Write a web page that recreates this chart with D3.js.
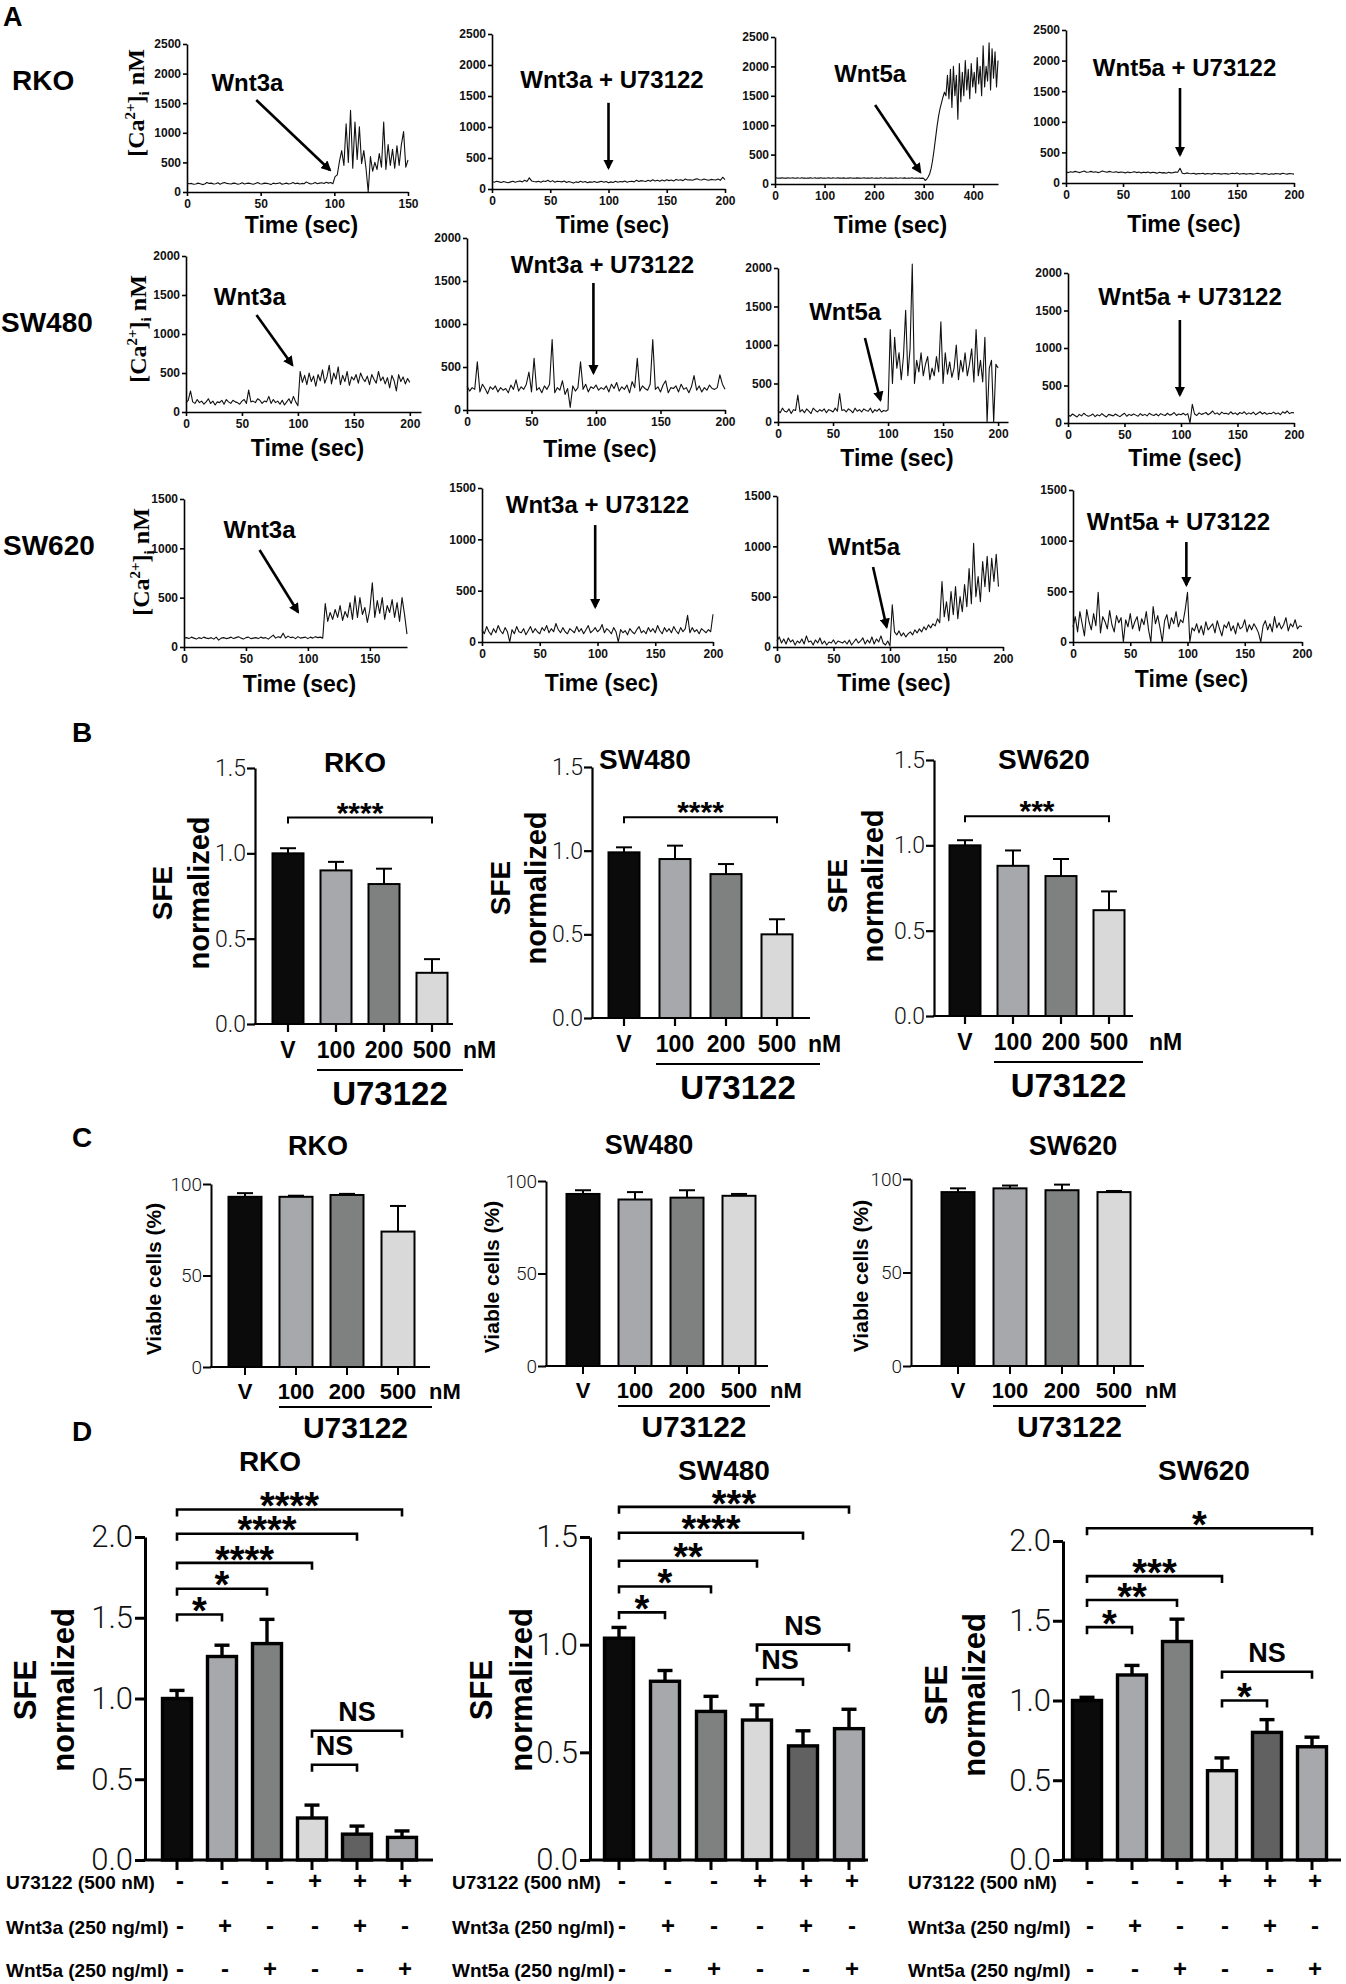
<!DOCTYPE html>
<html>
<head>
<meta charset="utf-8">
<script src="https://cdn.jsdelivr.net/npm/d3@7"></script>
<style>
  body { margin: 0; background: #fff; }
  svg { display: block; }
</style>
</head>
<body>
<svg id="fig" width="1346" height="1984"></svg>
<script>
// ---------- panel A : [Ca2+]i traces (nM), evenly sampled from 0 to tEnd ----------
const rkoWnt3a = [150,140,145,130,135,150,140,125,135,160,
  145,150,135,140,155,130,150,160,145,140,
  135,150,145,130,140,155,135,145,150,140,
  130,145,160,140,135,150,145,140,125,150,
  140,145,155,130,140,150,135,145,160,140,
  150,135,145,140,170,150,135,145,160,140,
  150,155,145,165,150,160,140,260,290,520,
  700,450,1150,500,1380,400,1180,550,1100,480,
  700,400,0,600,350,500,380,650,420,1180,
  380,800,450,720,400,780,450,800,1020,420,
  540];
const rkoWnt3aU = [120,110,125,115,105,120,110,100,115,125,
  110,120,130,115,140,120,180,130,120,115,
  125,110,130,120,140,115,135,110,125,120,
  115,130,105,120,110,95,115,105,125,110,
  120,100,115,110,120,105,115,125,110,120,
  100,115,105,125,110,120,115,130,110,120,
  125,115,140,120,135,130,120,140,125,150,
  130,140,125,145,130,150,135,145,130,155,
  140,150,135,160,145,150,140,155,165,150,
  145,160,150,140,155,150,145,160,140,190,
  150];
const rkoWnt5a = [100,105,98,102,100,108,97,103,100,105,
  98,102,106,100,97,104,101,99,105,100,
  102,98,103,100,107,99,101,104,98,102,
  100,105,99,102,98,103,106,100,97,104,
  101,99,105,100,102,98,104,100,97,103,
  100,106,99,102,98,104,100,103,97,101,
  104,99,102,100,97,105,101,99,103,100,
  98,104,101,99,106,100,97,103,100,102,
  99,105,100,98,103,101,97,104,100,99,
  102,98,105,100,97,103,99,101,96,100,
  95,60,80,120,170,260,400,580,780,980,
  1150,1280,1380,1480,1560,1500,1850,1450,1950,1300,
  2000,1500,1850,1100,2050,1400,1900,1500,2100,1600,
  1950,1450,2050,1650,1900,1550,2150,1700,2000,1500,
  2350,1650,2000,1750,2400,1600,2300,1800,2250,1650,
  2100];
const rkoWnt5aU = [180,170,185,175,190,180,170,185,195,175,
  180,190,175,185,170,180,195,185,175,190,
  180,175,185,170,180,175,165,180,170,175,
  185,170,180,165,175,170,180,165,175,170,
  160,175,165,170,160,175,165,170,180,175,
  240,160,150,165,155,150,160,145,155,150,
  160,145,155,150,145,160,150,155,145,150,
  155,145,150,160,150,165,145,150,155,145,
  150,155,145,150,160,150,145,155,150,140,
  150,145,155,150,145,160,150,145,155,150,
  145];
const sw480Wnt3a = [120,150,270,130,110,160,120,140,100,130,
  170,110,140,90,130,120,150,100,160,130,
  110,150,130,120,100,140,160,110,280,130,
  140,120,170,150,110,140,130,200,110,160,
  120,140,100,150,90,130,170,110,200,130,
  80,520,380,470,350,500,390,460,330,480,
  400,540,370,450,600,360,500,420,580,350,
  470,390,520,340,450,410,480,370,500,430,
  390,460,350,480,420,370,520,400,450,360,
  440,310,470,400,270,480,390,450,360,430,
  380];
const sw480Wnt3aU = [280,220,260,240,560,210,300,250,190,270,
  240,280,210,260,230,250,200,290,240,350,
  220,270,240,300,440,210,600,230,260,200,
  280,240,300,820,200,260,230,340,180,250,
  30,280,220,260,560,240,300,210,270,250,
  290,230,260,240,280,210,300,250,320,220,
  270,240,290,200,330,260,600,220,280,250,
  230,300,820,240,270,210,290,340,200,260,
  250,280,210,300,240,260,200,270,400,230,
  280,210,260,230,290,250,240,260,410,300,
  240];
const sw480Wnt5a = [150,120,180,140,130,170,110,160,150,350,
  130,160,120,170,140,110,180,150,130,160,
  140,170,120,160,150,130,180,140,370,150,
  160,130,170,150,120,180,140,160,130,170,
  150,140,180,120,160,140,170,130,150,140,
  160,1200,500,1100,700,900,550,850,1450,600,
  950,2050,500,800,650,900,600,750,850,550,
  700,600,850,650,1300,500,900,620,780,580,
  700,1000,550,800,650,900,600,750,950,520,
  1200,600,800,520,1100,0,700,800,0,750,
  700];
const sw480Wnt5aU = [110,90,120,100,80,115,95,130,105,90,
  100,120,85,110,95,125,100,80,115,105,
  95,120,100,85,110,130,90,115,100,120,
  105,90,125,100,115,95,130,110,100,120,
  95,125,110,100,130,105,115,140,100,120,
  110,130,105,125,0,250,120,100,135,115,
  125,140,110,130,160,120,135,110,145,125,
  130,115,150,120,135,110,140,125,150,115,
  135,120,145,110,130,150,120,140,115,130,
  125,145,120,135,110,150,130,160,125,140,
  135];
const sw620Wnt3a = [90,95,85,100,90,80,95,85,100,90,
  85,95,80,100,70,90,95,85,90,100,
  85,95,105,90,80,95,100,85,90,95,
  85,100,90,95,80,100,120,90,105,95,
  140,90,110,95,100,85,105,90,95,100,
  85,100,90,105,95,100,90,440,260,350,
  280,380,300,420,270,360,300,450,280,520,
  300,500,330,400,250,380,650,300,470,340,
  500,280,420,350,480,300,450,260,500,330,
  130];
const sw620Wnt3aU = [120,80,150,100,70,130,90,160,110,80,
  140,100,0,120,80,150,100,90,130,70,
  110,150,90,130,100,80,140,110,160,90,
  130,100,180,120,90,140,100,80,130,110,
  90,150,100,130,80,120,160,90,110,140,
  100,120,170,90,130,110,80,140,100,0,
  120,90,110,70,130,100,80,120,150,90,
  110,80,140,100,130,90,160,110,80,140,
  100,130,90,150,110,80,140,100,130,260,
  90,140,100,120,80,130,110,90,120,100,
  270];
const sw620Wnt5a = [60,100,40,80,30,90,50,70,20,60,
  40,80,30,110,50,60,20,70,40,90,
  30,60,20,50,40,70,30,60,50,40,
  60,30,70,20,50,80,40,60,90,30,
  70,40,100,30,80,50,110,40,20,60,
  10,420,150,120,160,110,140,100,130,150,
  120,170,140,180,150,200,170,220,190,230,
  210,280,240,650,300,450,260,550,320,600,
  280,500,350,620,400,780,430,1030,500,700,
  450,850,600,900,550,880,650,920,600];
const sw620Wnt5aU = [150,250,100,300,180,60,320,200,120,280,
  160,490,90,250,200,130,310,170,100,260,
  190,240,0,220,150,280,130,200,250,110,
  230,170,300,120,0,350,180,260,140,0,
  210,270,130,240,180,300,150,220,190,320,
  490,0,140,110,180,90,160,70,200,120,
  150,180,90,210,130,60,170,140,200,110,
  160,80,190,130,150,220,100,170,120,180,
  140,90,0,160,210,120,180,100,250,140,
  190,130,170,240,110,180,150,220,130,160,
  150];

const tick2500 = [0, 500, 1000, 1500, 2000, 2500];
const tick2000 = [0, 500, 1000, 1500, 2000];
const tick1500 = [0, 500, 1000, 1500];
const tTicks150 = [0, 50, 100, 150];
const tTicks200 = [0, 50, 100, 150, 200];
const tTicks400 = [0, 100, 200, 300, 400];
const cellLines = ['RKO', 'SW480', 'SW620'];

// ---------- panel B : sphere forming efficiency ----------
const doseCats = ['V', '100', '200', '500'];
const sfeRKO = [1.00, 0.90, 0.82, 0.30];
const sfeRKOerr = [0.03, 0.05, 0.09, 0.08];
const sfeSW480 = [0.99, 0.95, 0.86, 0.50];
const sfeSW480err = [0.03, 0.08, 0.06, 0.09];
const sfeSW620 = [1.00, 0.88, 0.82, 0.62];
const sfeSW620err = [0.03, 0.09, 0.10, 0.11];
const sfeTicks = [0, 0.5, 1.0, 1.5];

// ---------- panel C : viability (%) ----------
const viaRKO = [93, 93, 94, 74];
const viaRKOerr = [2, 0.6, 0.6, 14];
const viaSW480 = [93, 90, 91, 92];
const viaSW480err = [2, 4, 4, 1];
const viaSW620 = [93, 95, 94, 93];
const viaSW620err = [2, 1.5, 3, 0.6];
const viaTicks = [0, 50, 100];

// ---------- panel D : SFE with Wnt ligands ----------
const comboCats = ['ctrl', 'wnt3a', 'wnt5a', 'u', 'u+wnt3a', 'u+wnt5a'];
const u73Row = ['-', '-', '-', '+', '+', '+'];
const wnt3aRow = ['-', '+', '-', '-', '+', '-'];
const wnt5aRow = ['-', '-', '+', '-', '-', '+'];
const rowNames = ['U73122 (500 nM)', 'Wnt3a (250 ng/ml)', 'Wnt5a (250 ng/ml)'];
const dRKO = [1.00, 1.26, 1.34, 0.26, 0.16, 0.14];
const dRKOerr = [0.05, 0.07, 0.15, 0.08, 0.05, 0.04];
const dSW480 = [1.03, 0.83, 0.69, 0.65, 0.53, 0.61];
const dSW480err = [0.05, 0.05, 0.07, 0.07, 0.07, 0.09];
const dSW620 = [1.00, 1.16, 1.37, 0.56, 0.80, 0.71];
const dSW620err = [0.02, 0.06, 0.14, 0.08, 0.08, 0.06];
const dTicks2 = [0, 0.5, 1.0, 1.5, 2.0];
const dTicks15 = [0, 0.5, 1.0, 1.5];

// significance: label, from, to, bracket height (data units)
const sigB_RKO = [['****', 'V', '500', 1.21]];
const sigB_SW480 = [['****', 'V', '500', 1.20]];
const sigB_SW620 = [['***', 'V', '500', 1.17]];
const sigD_RKO = [['****', 'ctrl', 'u+wnt5a', 2.17], ['****', 'ctrl', 'u+wnt3a', 2.02],
  ['****', 'ctrl', 'u', 1.84], ['*', 'ctrl', 'wnt5a', 1.68], ['*', 'ctrl', 'wnt3a', 1.52],
  ['NS', 'u', 'u+wnt5a', 0.80], ['NS', 'u', 'u+wnt3a', 0.59]];
const sigD_SW480 = [['***', 'ctrl', 'u+wnt5a', 1.64], ['****', 'ctrl', 'u+wnt3a', 1.52],
  ['**', 'ctrl', 'u', 1.39], ['*', 'ctrl', 'wnt5a', 1.27], ['*', 'ctrl', 'wnt3a', 1.15],
  ['NS', 'u', 'u+wnt5a', 1.00], ['NS', 'u', 'u+wnt3a', 0.84]];
const sigD_SW620 = [['*', 'ctrl', 'u+wnt5a', 2.08], ['***', 'ctrl', 'u', 1.78],
  ['**', 'ctrl', 'wnt5a', 1.63], ['*', 'ctrl', 'wnt3a', 1.46],
  ['NS', 'u', 'u+wnt5a', 1.18], ['*', 'u', 'u+wnt3a', 1.00]];

const doseFills = ['#0b0b0b', '#a7a8ac', '#7f8080', '#d9d9d9'];
const comboFills = ['#0b0b0b', '#a7a8ac', '#7f8080', '#d9d9d9', '#616161', '#a7a8ac'];

// ---------------------------------------------------------------
const svg = d3.select('#fig');
const SANS = '"Liberation Sans", Arial, Helvetica, sans-serif';
const LIGHT = 'Roboto, "Liberation Sans", sans-serif';

svg.append('defs').append('marker')
  .attr('id', 'ah').attr('viewBox', '0 0 10 10')
  .attr('refX', 8).attr('refY', 5)
  .attr('markerWidth', 4).attr('markerHeight', 4)
  .attr('orient', 'auto')
  .append('path').attr('d', 'M0,0L10,5L0,10z').attr('fill', '#000');

function label(x, y, str, size, opt = {}) {
  const t = svg.append('text')
    .attr('x', x).attr('y', y).text(str)
    .attr('font-family', opt.family || SANS)
    .attr('font-size', size)
    .attr('font-weight', opt.weight || 'bold')
    .attr('text-anchor', opt.anchor || 'middle')
    .attr('fill', '#000');
  if (opt.rotate) {
    t.attr('transform', `rotate(-90,${x},${y})`).attr('dominant-baseline', 'central');
  }
  return t;
}

function styleAxis(g, sw, size, family, weight) {
  g.attr('font-family', family).attr('font-size', size).attr('font-weight', weight);
  g.selectAll('path, line').attr('stroke', '#000').attr('stroke-width', sw);
  g.selectAll('text').attr('fill', '#111');
}

// ---------- panel A ----------
const traceLayout = [
  { data: rkoWnt3a, tEnd: 150, xMax: 150, xTicks: tTicks150, yTicks: tick2500, l: 187, r: 408, b: 192, t: 44,
    note: 'Wnt3a', noteAt: [41, 1706], arrow: [[47, 1554], [97, 372]], timeY: 233 },
  { data: rkoWnt3aU, tEnd: 200, xMax: 200, xTicks: tTicks200, yTicks: tick2500, l: 492, r: 725, b: 189, t: 34,
    note: 'Wnt3a + U73122', noteAt: [103, 1629], arrow: [[100, 1390], [100, 340]], timeY: 233 },
  { data: rkoWnt5a, tEnd: 450, xMax: 450, xTicks: tTicks400, yTicks: tick2500, l: 775, r: 998, b: 184, t: 37,
    note: 'Wnt5a', noteAt: [192, 1735], arrow: [[202, 1344], [293, 204]], timeY: 233 },
  { data: rkoWnt5aU, tEnd: 200, xMax: 200, xTicks: tTicks200, yTicks: tick2500, l: 1066, r: 1294, b: 183, t: 30,
    note: 'Wnt5a + U73122', noteAt: [104, 1748], arrow: [[100, 1552], [100, 458]], timeY: 232 },

  { data: sw480Wnt3a, tEnd: 200, xMax: 210, xTicks: tTicks200, yTicks: tick2000, l: 186, r: 421, b: 412, t: 256,
    note: 'Wnt3a', noteAt: [57, 1372], arrow: [[63, 1244], [95, 603]], timeY: 456 },
  { data: sw480Wnt3aU, tEnd: 200, xMax: 200, xTicks: tTicks200, yTicks: tick2000, l: 467, r: 725, b: 410, t: 238,
    note: 'Wnt3a + U73122', noteAt: [105, 1593], arrow: [[98, 1477], [98, 430]], timeY: 457 },
  { data: sw480Wnt5a, tEnd: 200, xMax: 209, xTicks: tTicks200, yTicks: tick2000, l: 778, r: 1008, b: 422, t: 268,
    note: 'Wnt5a', noteAt: [61, 1325], arrow: [[79, 1091], [93, 286]], timeY: 466 },
  { data: sw480Wnt5aU, tEnd: 200, xMax: 200, xTicks: tTicks200, yTicks: tick2000, l: 1068, r: 1294, b: 423, t: 273,
    note: 'Wnt5a + U73122', noteAt: [108, 1573], arrow: [[99, 1373], [99, 373]], timeY: 466 },

  { data: sw620Wnt3a, tEnd: 180, xMax: 180, xTicks: tTicks150, yTicks: tick1500, l: 184, r: 407, b: 647, t: 499,
    note: 'Wnt3a', noteAt: [61, 1105], arrow: [[61, 983], [92, 355]], timeY: 692 },
  { data: sw620Wnt3aU, tEnd: 200, xMax: 200, xTicks: tTicks200, yTicks: tick1500, l: 482, r: 713, b: 642, t: 488,
    note: 'Wnt3a + U73122', noteAt: [100, 1256], arrow: [[98, 1139], [98, 341]], timeY: 691 },
  { data: sw620Wnt5a, tEnd: 196, xMax: 200, xTicks: tTicks200, yTicks: tick1500, l: 777, r: 1003, b: 647, t: 496,
    note: 'Wnt5a', noteAt: [77, 914], arrow: [[85, 795], [97, 199]], timeY: 691 },
  { data: sw620Wnt5aU, tEnd: 200, xMax: 200, xTicks: tTicks200, yTicks: tick1500, l: 1073, r: 1302, b: 642, t: 490,
    note: 'Wnt5a + U73122', noteAt: [92, 1105], arrow: [[99, 987], [99, 563]], timeY: 687 }
];

traceLayout.forEach(c => {
  const x = d3.scaleLinear().domain([0, c.xMax]).range([c.l, c.r]);
  const y = d3.scaleLinear().domain([0, d3.max(c.yTicks)]).range([c.b, c.t]);
  const step = c.tEnd / (c.data.length - 1);

  const gx = svg.append('g').attr('transform', `translate(0,${c.b})`)
    .call(d3.axisBottom(x).tickValues(c.xTicks).tickSize(4).tickSizeOuter(0).tickPadding(3));
  styleAxis(gx, 1.6, 12, SANS, 'bold');
  const gy = svg.append('g').attr('transform', `translate(${c.l},0)`)
    .call(d3.axisLeft(y).tickValues(c.yTicks).tickFormat(d3.format('d')).tickSize(4).tickSizeOuter(0).tickPadding(2));
  styleAxis(gy, 1.6, 12, SANS, 'bold');

  svg.append('path').datum(c.data)
    .attr('d', d3.line().x((d, i) => x(i * step)).y(d => y(d)))
    .attr('fill', 'none').attr('stroke', '#111').attr('stroke-width', 1.1)
    .attr('stroke-linejoin', 'round');

  label(x(c.noteAt[0]), y(c.noteAt[1]), c.note, 24);
  svg.append('line')
    .attr('x1', x(c.arrow[0][0])).attr('y1', y(c.arrow[0][1]))
    .attr('x2', x(c.arrow[1][0])).attr('y2', y(c.arrow[1][1]))
    .attr('stroke', '#000').attr('stroke-width', 2.6)
    .attr('marker-end', 'url(#ah)');

  label((c.l + c.r) / 2 + 4, c.timeY, 'Time (sec)', 23);
});

// y titles and row names of panel A
[[144, 103], [146, 329], [149, 562]].forEach(([bx, cy]) => {
  const t = svg.append('text')
    .attr('x', bx).attr('y', cy)
    .attr('transform', `rotate(-90,${bx},${cy})`)
    .attr('text-anchor', 'middle')
    .attr('font-family', '"Liberation Serif", "Times New Roman", serif')
    .attr('font-weight', 'bold').attr('font-size', 24);
  t.append('tspan').text('[Ca');
  t.append('tspan').attr('dy', -9).attr('font-size', 15).text('2+');
  t.append('tspan').attr('dy', 9).text(']');
  t.append('tspan').attr('dy', 5).attr('font-size', 15).text('i');
  t.append('tspan').attr('dy', -5).text(' nM');
});
label(12, 90, cellLines[0], 28, { anchor: 'start' });
label(1, 332, cellLines[1], 28, { anchor: 'start' });
label(3, 555, cellLines[2], 28, { anchor: 'start' });

// panel letters
label(3, 26, 'A', 27, { anchor: 'start' });
label(72, 742, 'B', 28, { anchor: 'start' });
label(72, 1147, 'C', 28, { anchor: 'start' });
label(72, 1441, 'D', 28, { anchor: 'start' });

// ---------- bar chart core ----------
function barCore(c) {
  const n = c.cats.length;
  const step = (c.bandEnd - c.bandStart) / n;
  const pad = 1 - c.barW / step;
  const x = d3.scaleBand().domain(c.cats).range([c.bandStart, c.bandEnd])
    .paddingInner(pad).paddingOuter(pad / 2);
  const y = d3.scaleLinear().domain([0, d3.max(c.yTicks)]).range([c.b, c.t]);
  const rows = c.cats.map((k, i) => ({ k, v: c.vals[i], e: c.errs[i], f: c.fills[i] }));
  const cx = d => x(d.k) + x.bandwidth() / 2;

  svg.append('g').selectAll('line').data(rows).enter().append('line')
    .attr('x1', cx).attr('x2', cx)
    .attr('y1', d => y(d.v)).attr('y2', d => y(d.v + d.e))
    .attr('stroke', '#000').attr('stroke-width', c.sw);
  svg.append('g').selectAll('line').data(rows).enter().append('line')
    .attr('x1', d => cx(d) - c.cap / 2).attr('x2', d => cx(d) + c.cap / 2)
    .attr('y1', d => y(d.v + d.e)).attr('y2', d => y(d.v + d.e))
    .attr('stroke', '#000').attr('stroke-width', c.sw);

  svg.append('g').selectAll('rect').data(rows).enter().append('rect')
    .attr('x', d => x(d.k)).attr('y', d => y(d.v))
    .attr('width', x.bandwidth()).attr('height', d => c.b - y(d.v))
    .attr('fill', d => d.f).attr('stroke', '#000').attr('stroke-width', c.sw);

  const gy = svg.append('g').attr('transform', `translate(${c.l},0)`)
    .call(d3.axisLeft(y).tickValues(c.yTicks).tickFormat(c.fmt)
      .tickSize(c.tick).tickSizeOuter(0).tickPadding(c.tickPad));
  styleAxis(gy, c.axw, c.tickFont, LIGHT, 300);

  const gx = svg.append('g').attr('transform', `translate(0,${c.b})`)
    .call(d3.axisBottom(x).tickSize(c.tick).tickFormat(''));
  gx.select('.domain').remove();
  styleAxis(gx, c.axw, 10, SANS, 'normal');
  svg.append('line').attr('x1', c.l - c.axw / 2).attr('x2', c.r)
    .attr('y1', c.b).attr('y2', c.b)
    .attr('stroke', '#000').attr('stroke-width', c.axw);

  label(c.title[0], c.title[1], c.name, c.titleSize);
  return { x, y };
}

function brackets(list, s, c) {
  const bw = s.x.bandwidth() / 2;
  list.forEach(([lab, a, b, lvl]) => {
    const x1 = s.x(a) + bw, x2 = s.x(b) + bw, yy = s.y(lvl);
    svg.append('path')
      .attr('d', `M${x1},${yy + c.hook}V${yy}H${x2}V${yy + c.hook}`)
      .attr('fill', 'none').attr('stroke', '#000').attr('stroke-width', c.bsw);
    if (lab.startsWith('*')) {
      label((x1 + x2) / 2, yy - c.gap + 0.57 * c.starSize, lab, c.starSize);
    } else {
      label((x1 + x2) / 2, yy - c.nsGap, lab, c.nsSize);
    }
  });
}

function doseLabels(c, s, o) {
  const cx = k => s.x(k) + s.x.bandwidth() / 2;
  doseCats.forEach(k => label(cx(k), c.b + o.lab, k, o.labSize));
  label(cx('500') + (c.nmDx || o.nmDx), c.b + o.lab, 'nM', o.labSize, { anchor: 'start' });
  const x1 = cx('100') - o.lineIn, x2 = c.r + o.lineOut;
  svg.append('line').attr('x1', x1).attr('x2', x2)
    .attr('y1', c.b + o.line).attr('y2', c.b + o.line)
    .attr('stroke', '#000').attr('stroke-width', 2);
  label((x1 + x2) / 2, c.b + o.drug, 'U73122', o.drugSize);
}

// ---------- panel B ----------
const bBase = { cats: doseCats, fills: doseFills, yTicks: sfeTicks, fmt: d3.format('.1f'),
  barW: 31, cap: 16, sw: 2, axw: 2.2, tick: 8, tickPad: 1, tickFont: 23, titleSize: 28 };
const bOpts = { lab: 34, labSize: 23, nmDx: 31, line: 46, lineIn: 19, lineOut: 10, drug: 81, drugSize: 33 };
const bSig = { hook: 6, bsw: 2, gap: 12, starSize: 30, nsGap: 8, nsSize: 26 };
const bLayout = [
  { ...bBase, name: 'RKO', vals: sfeRKO, errs: sfeRKOerr, sig: sigB_RKO,
    l: 255, r: 453, b: 1024, t: 768, bandStart: 264, bandEnd: 456, title: [355, 772],
    yl: [162, 199, 893] },
  { ...bBase, name: 'SW480', vals: sfeSW480, errs: sfeSW480err, sig: sigB_SW480,
    l: 592, r: 810, b: 1018, t: 767, bandStart: 598.5, bandEnd: 802.5, title: [645, 769],
    yl: [500, 536, 888] },
  { ...bBase, name: 'SW620', vals: sfeSW620, errs: sfeSW620err, sig: sigB_SW620,
    l: 934, r: 1133, b: 1016, t: 760, bandStart: 941, bandEnd: 1133, title: [1044, 769],
    yl: [837, 873, 886], nmDx: 40 }
];
bLayout.forEach(c => {
  const s = barCore(c);
  brackets(c.sig, s, bSig);
  doseLabels(c, s, bOpts);
  label(c.yl[0], c.yl[2], 'SFE', 28, { rotate: true });
  label(c.yl[1], c.yl[2], 'normalized', 29, { rotate: true });
});

// ---------- panel C ----------
const cBase = { cats: doseCats, fills: doseFills, yTicks: viaTicks, fmt: d3.format('d'),
  barW: 33, cap: 16, sw: 2, axw: 2, tick: 8, tickPad: 1, tickFont: 19, titleSize: 27 };
const cOpts = { lab: 32, labSize: 22, nmDx: 31, line: 40, lineIn: 17, lineOut: 2, drug: 71, drugSize: 30 };
const cLayout = [
  { ...cBase, name: 'RKO', vals: viaRKO, errs: viaRKOerr,
    l: 211, r: 430, b: 1367, t: 1184, bandStart: 219.5, bandEnd: 423.5, title: [318, 1155], yl: [153, 1279] },
  { ...cBase, name: 'SW480', vals: viaSW480, errs: viaSW480err,
    l: 546, r: 768, b: 1366, t: 1181, bandStart: 557, bandEnd: 765, title: [649, 1154], yl: [491, 1277] },
  { ...cBase, name: 'SW620', vals: viaSW620, errs: viaSW620err,
    l: 911, r: 1144, b: 1366, t: 1179, bandStart: 932, bandEnd: 1140, title: [1073, 1155], yl: [860, 1276] }
];
cLayout.forEach(c => {
  const s = barCore(c);
  doseLabels(c, s, cOpts);
  label(c.yl[0], c.yl[1], 'Viable cells (%)', 21, { rotate: true });
});

// ---------- panel D ----------
const dBase = { cats: comboCats, fills: comboFills, fmt: d3.format('.1f'),
  barW: 29, cap: 15, sw: 3.4, axw: 3, tick: 10, tickPad: 2, tickFont: 31, titleSize: 28 };
const dSig = { hook: 7, bsw: 2.6, gap: 12, starSize: 38, nsGap: 10, nsSize: 27 };
const rowOffsets = [29, 74, 117];
const dLayout = [
  { ...dBase, name: 'RKO', vals: dRKO, errs: dRKOerr, yTicks: dTicks2, sig: sigD_RKO,
    l: 145, r: 433, b: 1860, t: 1537, bandStart: 154.5, bandEnd: 424.5, title: [270, 1471],
    yl: [25, 63, 1690], rowX: 6 },
  { ...dBase, name: 'SW480', vals: dSW480, errs: dSW480err, yTicks: dTicks15, sig: sigD_SW480,
    l: 590, r: 868, b: 1860, t: 1537, bandStart: 596, bandEnd: 872, title: [724, 1480],
    yl: [481, 521, 1690], rowX: 452 },
  { ...dBase, name: 'SW620', vals: dSW620, errs: dSW620err, yTicks: dTicks2, sig: sigD_SW620,
    l: 1063, r: 1341, b: 1860, t: 1541, bandStart: 1064.5, bandEnd: 1334.5, title: [1204, 1480],
    yl: [936, 974, 1695], rowX: 908 }
];
dLayout.forEach(c => {
  const s = barCore(c);
  brackets(c.sig, s, dSig);
  label(c.yl[0], c.yl[2], 'SFE', 31, { rotate: true });
  label(c.yl[1], c.yl[2], 'normalized', 31, { rotate: true });
  [u73Row, wnt3aRow, wnt5aRow].forEach((signs, r) => {
    const yy = c.b + rowOffsets[r];
    label(c.rowX, yy, rowNames[r], 19, { anchor: 'start' });
    signs.forEach((sg, i) => label(s.x(comboCats[i]) + s.x.bandwidth() / 2 + 3, yy, sg, 24));
  });
});
</script>
</body>
</html>
